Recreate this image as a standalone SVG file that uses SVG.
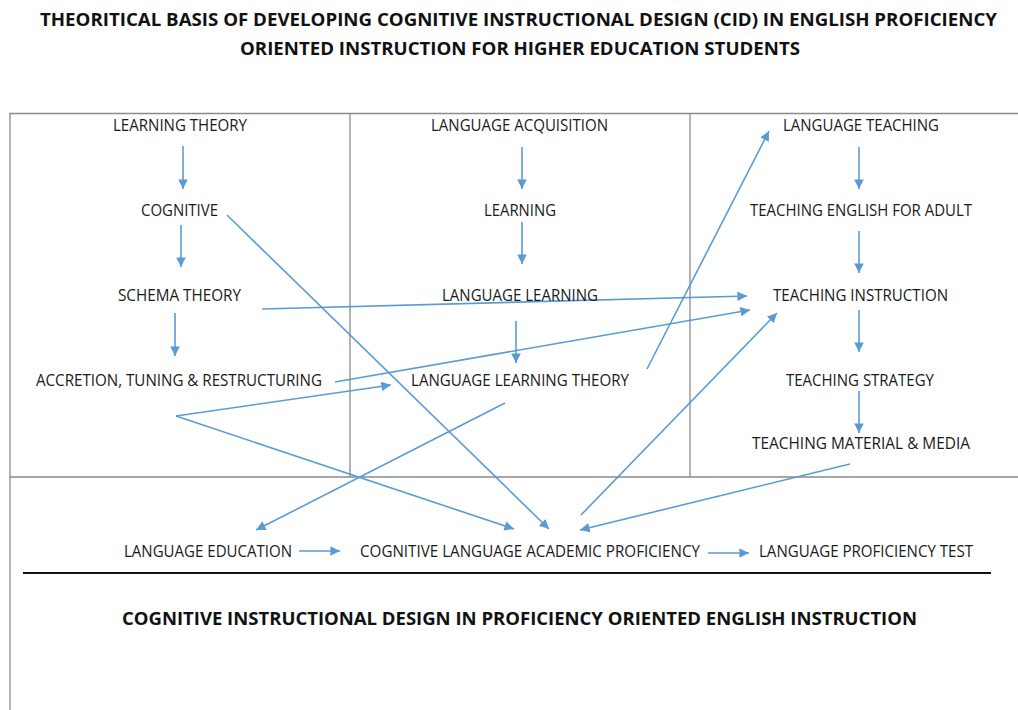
<svg xmlns="http://www.w3.org/2000/svg" width="1018" height="710" viewBox="0 0 1018 710">
<style>
.t{font-family:"Open Sans","Liberation Sans",sans-serif;font-size:16.5px;fill:#1a1a1a}
.h{font-family:"Open Sans","Liberation Sans",sans-serif;font-size:17.5px;font-weight:bold;fill:#111}
.f{stroke:#8a8a8a;stroke-width:1.3;fill:none}
.c{stroke:#5b9bd5;stroke-width:1.6;fill:none;marker-end:url(#ah)}
</style>
<defs>
<marker id="ah" viewBox="0 0 10 10" refX="10" refY="5" markerWidth="6.2" markerHeight="6" orient="auto" markerUnits="strokeWidth">
<path d="M0,0 L10,5 L0,10 Z" fill="#5b9bd5"/>
</marker>
</defs>
<rect width="1018" height="710" fill="#fff"/>
<g id="titles">
<text class="h" x="40" y="26" textLength="957" lengthAdjust="spacingAndGlyphs">THEORITICAL BASIS OF DEVELOPING COGNITIVE INSTRUCTIONAL DESIGN (CID) IN ENGLISH PROFICIENCY</text>
<text class="h" x="240" y="55" textLength="560" lengthAdjust="spacingAndGlyphs">ORIENTED INSTRUCTION FOR HIGHER EDUCATION STUDENTS</text>
</g>
<g id="frame">
<path class="f" d="M10,710 V113.5 H1018 M10,477 H1018 M350,113.5 V477 M690,113.5 V477"/>
<line x1="23" y1="573" x2="991" y2="573" stroke="#111" stroke-width="2.2"/>
</g>
<g id="connectors">
<line class="c" x1="183" y1="146" x2="183" y2="189"/>
<line class="c" x1="181" y1="225" x2="181" y2="267"/>
<line class="c" x1="175" y1="313" x2="175" y2="356"/>
<line class="c" x1="522" y1="147" x2="522" y2="189"/>
<line class="c" x1="522" y1="222" x2="522" y2="264"/>
<line class="c" x1="516" y1="321" x2="516" y2="363"/>
<line class="c" x1="859" y1="147" x2="859" y2="189"/>
<line class="c" x1="859" y1="231" x2="859" y2="273"/>
<line class="c" x1="859" y1="310" x2="859" y2="352"/>
<line class="c" x1="859" y1="391" x2="859" y2="433"/>
<line class="c" x1="227" y1="215" x2="549" y2="529"/>
<line class="c" x1="262" y1="309" x2="747" y2="296"/>
<line class="c" x1="335" y1="382" x2="750" y2="310"/>
<line class="c" x1="176" y1="416" x2="391" y2="385"/>
<line class="c" x1="176" y1="416" x2="514" y2="529"/>
<line class="c" x1="647" y1="369" x2="769" y2="131"/>
<line class="c" x1="505" y1="403" x2="256" y2="530"/>
<line class="c" x1="581" y1="515" x2="777" y2="313"/>
<line class="c" x1="850" y1="464" x2="580" y2="530"/>
<line class="c" x1="299" y1="551" x2="340" y2="551"/>
<line class="c" x1="708" y1="553" x2="749" y2="553"/>
</g>
<g id="n-learning-theory"><text class="t" x="113" y="131" textLength="134" lengthAdjust="spacingAndGlyphs">LEARNING THEORY</text></g>
<g id="n-cognitive"><text class="t" x="141" y="216" textLength="77" lengthAdjust="spacingAndGlyphs">COGNITIVE</text></g>
<g id="n-schema-theory"><text class="t" x="118" y="301" textLength="123" lengthAdjust="spacingAndGlyphs">SCHEMA THEORY</text></g>
<g id="n-accretion"><text class="t" x="36" y="386" textLength="286" lengthAdjust="spacingAndGlyphs">ACCRETION, TUNING &amp; RESTRUCTURING</text></g>
<g id="n-language-acquisition"><text class="t" x="431" y="131" textLength="177" lengthAdjust="spacingAndGlyphs">LANGUAGE ACQUISITION</text></g>
<g id="n-learning"><text class="t" x="484" y="216" textLength="72" lengthAdjust="spacingAndGlyphs">LEARNING</text></g>
<g id="n-language-learning"><text class="t" x="442" y="301" textLength="156" lengthAdjust="spacingAndGlyphs">LANGUAGE LEARNING</text></g>
<g id="n-language-learning-theory"><text class="t" x="411" y="386" textLength="218" lengthAdjust="spacingAndGlyphs">LANGUAGE LEARNING THEORY</text></g>
<g id="n-language-teaching"><text class="t" x="783" y="131" textLength="156" lengthAdjust="spacingAndGlyphs">LANGUAGE TEACHING</text></g>
<g id="n-teaching-english"><text class="t" x="750" y="216" textLength="222" lengthAdjust="spacingAndGlyphs">TEACHING ENGLISH FOR ADULT</text></g>
<g id="n-teaching-instruction"><text class="t" x="773" y="301" textLength="175" lengthAdjust="spacingAndGlyphs">TEACHING INSTRUCTION</text></g>
<g id="n-teaching-strategy"><text class="t" x="786" y="386" textLength="148" lengthAdjust="spacingAndGlyphs">TEACHING STRATEGY</text></g>
<g id="n-teaching-material"><text class="t" x="752" y="449" textLength="218" lengthAdjust="spacingAndGlyphs">TEACHING MATERIAL &amp; MEDIA</text></g>
<g id="n-language-education"><text class="t" x="124" y="557" textLength="168" lengthAdjust="spacingAndGlyphs">LANGUAGE EDUCATION</text></g>
<g id="n-clap"><text class="t" x="360" y="557" textLength="340" lengthAdjust="spacingAndGlyphs">COGNITIVE LANGUAGE ACADEMIC PROFICIENCY</text></g>
<g id="n-lpt"><text class="t" x="759" y="557" textLength="214" lengthAdjust="spacingAndGlyphs">LANGUAGE PROFICIENCY TEST</text></g>
<g id="n-cid"><text class="h" x="122" y="625" textLength="795" lengthAdjust="spacingAndGlyphs">COGNITIVE INSTRUCTIONAL DESIGN IN PROFICIENCY ORIENTED ENGLISH INSTRUCTION</text></g>
</svg>
